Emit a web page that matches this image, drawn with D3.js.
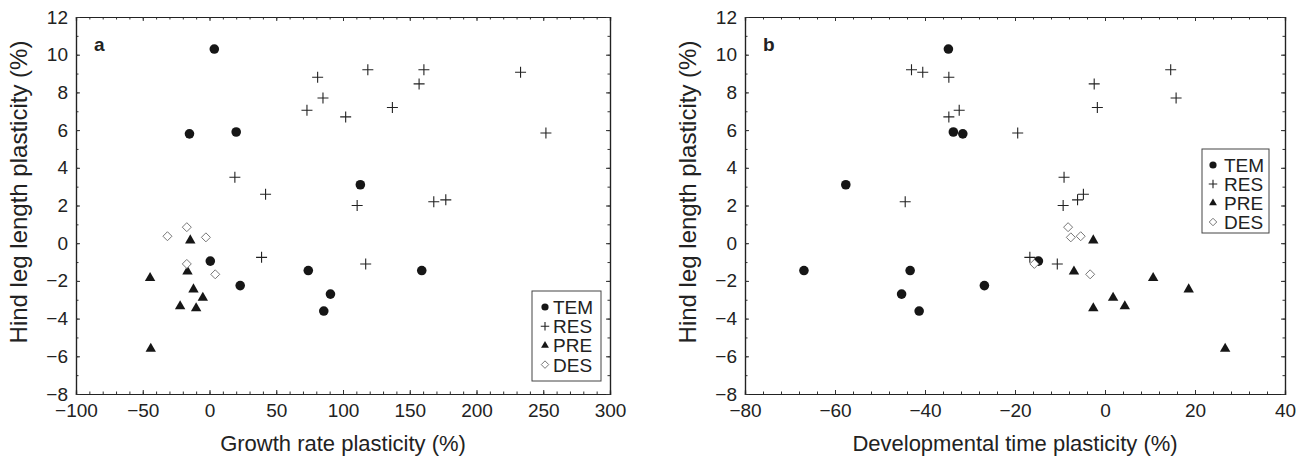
<!DOCTYPE html>
<html>
<head>
<meta charset="utf-8">
<script src="https://cdn.jsdelivr.net/npm/d3@7"></script>
<style>
  body { margin: 0; background: #fff; }
  svg { display: block; font-family: "Liberation Sans", Arial, Helvetica, sans-serif; }
</style>
</head>
<body>
<div id="chart"></div>
<script>
// hind leg length plasticity (%), shared by both panels
var groups = ["TEM", "RES", "PRE", "DES"];

var temHind   = [10.3, 5.8, 5.9, 3.1, -0.95, -1.45, -1.45, -2.25, -2.7, -3.6];
var temGrowth = [3.6, -15, 20, 113, 0.6, 74, 159, 23, 90.6, 85.6];
var temDev    = [-34.8, -31.6, -33.7, -57.6, -14.8, -66.9, -43.3, -26.8, -45.2, -41.3];

var resHind   = [9.2, 9.2, 9.07, 8.8, 8.45, 7.7, 7.2, 7.05, 6.7, 5.85, 3.5, 2.6, 2.3, 2.2, 2.0, -0.75, -1.1];
var resGrowth = [118.6, 160.6, 233, 81, 157, 85, 137, 73, 102, 252, 19, 42, 177, 168, 110.6, 39, 117];
var resDev    = [-43, 14.6, -40.5, -34.7, -2.4, 15.8, -1.7, -32.4, -34.7, -19.4, -9.1, -4.8, -6.1, -44.4, -9.3, -16.7, -10.6];

var preHind   = [0.15, -1.5, -1.85, -2.45, -2.9, -3.35, -3.45, -5.6];
var preGrowth = [-14.4, -16.5, -44.5, -12, -5, -22, -10, -44];
var preDev    = [-2.6, -6.9, 10.7, 18.6, 1.8, 4.4, -2.6, 26.7];

var desHind   = [0.85, 0.37, 0.31, -1.1, -1.65];
var desGrowth = [-17, -31.5, -2.7, -17, 4.3];
var desDev    = [-8.2, -5.4, -7.6, -15.7, -3.3];

var yTicks = [-8, -6, -4, -2, 0, 2, 4, 6, 8, 10, 12];
var growthTicks = [-100, -50, 0, 50, 100, 150, 200, 250, 300];
var devTicks = [-80, -60, -40, -20, 0, 20, 40];

function init() {
    var W = 1307, H = 460;
    var top = 17, bottom = 394;

    var svg = d3.select("#chart")
        .append("svg")
        .attr("width", W)
        .attr("height", H);

    var yScale = d3.scaleLinear().domain([-8, 12]).range([bottom, top]);

    var panels = [
        {
            label: "a", left: 76, right: 610,
            domain: [-100, 300], ticks: growthTicks, minorStep: 10,
            xTitle: "Growth rate plasticity (%)",
            xs: [temGrowth, resGrowth, preGrowth, desGrowth],
            legend: { x: 532, y: 291, w: 69, h: 90, row: 19.2, symX: 13, textX: 21 }
        },
        {
            label: "b", left: 745, right: 1285,
            domain: [-80, 40], ticks: devTicks, minorStep: 4,
            xTitle: "Developmental time plasticity (%)",
            xs: [temDev, resDev, preDev, desDev],
            legend: { x: 1202, y: 149, w: 67, h: 84, row: 19, symX: 11, textX: 22 }
        }
    ];
    var hinds = [temHind, resHind, preHind, desHind];

    // marker paths
    function markerPath(name, s) {
        if (name === "TEM") return d3.symbol(d3.symbolCircle, Math.PI * s * s * 0.23)();
        if (name === "RES") return "M" + (-s / 2 - 0.5) + ",0H" + (s / 2 + 0.5) + "M0," + (-s / 2 - 0.5) + "V" + (s / 2 + 0.5);
        if (name === "PRE") return d3.symbol(d3.symbolTriangle, s * s * 0.47)();
        return "M0," + (-s / 2) + "L" + (s / 2) + ",0L0," + (s / 2) + "L" + (-s / 2) + ",0Z";
    }
    function styleMarker(sel, name) {
        if (name === "TEM" || name === "PRE") {
            sel.attr("fill", "#161616").attr("stroke", "none");
        } else if (name === "RES") {
            sel.attr("fill", "none").attr("stroke", "#222").attr("stroke-width", 1.1);
        } else {
            sel.attr("fill", "#fff").attr("stroke", "#777").attr("stroke-width", 1);
        }
    }

    panels.forEach(function (p) {
        var x = d3.scaleLinear().domain(p.domain).range([p.left, p.right]);
        var y = yScale;
        var g = svg.append("g");

        var minorX = d3.range(p.domain[0], p.domain[1] + 0.001, p.minorStep);
        var minorY = d3.range(-8, 12.001, 1);

        // minor ticks on all sides, pointing inward
        g.append("g").attr("class", "axis").attr("transform", "translate(0," + bottom + ")")
            .call(d3.axisBottom(x).tickValues(minorX).tickSize(-2.5).tickFormat(""));
        g.append("g").attr("class", "axis").attr("transform", "translate(0," + top + ")")
            .call(d3.axisTop(x).tickValues(minorX).tickSize(-2.5).tickFormat(""));
        g.append("g").attr("class", "axis").attr("transform", "translate(" + p.left + ",0)")
            .call(d3.axisLeft(y).tickValues(minorY).tickSize(-2.5).tickFormat(""));
        g.append("g").attr("class", "axis").attr("transform", "translate(" + p.right + ",0)")
            .call(d3.axisRight(y).tickValues(minorY).tickSize(-2.5).tickFormat(""));

        // major ticks with labels
        g.append("g").attr("class", "axis major").attr("transform", "translate(0," + bottom + ")")
            .call(d3.axisBottom(x).tickValues(p.ticks).tickSize(-4).tickPadding(10).tickFormat(d3.format("d")));
        g.append("g").attr("class", "axis").attr("transform", "translate(0," + top + ")")
            .call(d3.axisTop(x).tickValues(p.ticks).tickSize(-4).tickFormat(""));
        g.append("g").attr("class", "axis major").attr("transform", "translate(" + p.left + ",0)")
            .call(d3.axisLeft(y).tickValues(yTicks).tickSize(-4).tickPadding(8).tickFormat(d3.format("d")));
        g.append("g").attr("class", "axis").attr("transform", "translate(" + p.right + ",0)")
            .call(d3.axisRight(y).tickValues(yTicks).tickSize(-4).tickFormat(""));

        g.selectAll(".axis path").attr("stroke", "#222").attr("stroke-width", 1.2);
        g.selectAll(".axis line").attr("stroke", "#333").attr("stroke-width", 1);
        g.selectAll(".axis text")
            .attr("fill", "#222")
            .style("font-size", "19px")
            .style("font-family", "'Liberation Sans', Arial, sans-serif");

        // panel letter
        g.append("text")
            .attr("x", p.left + 18)
            .attr("y", top + 34)
            .attr("font-size", 19)
            .attr("font-weight", "bold")
            .attr("fill", "#222")
            .text(p.label);

        // points
        groups.forEach(function (name, gi) {
            var pts = p.xs[gi].map(function (v, i) { return [v, hinds[gi][i]]; });
            g.selectAll(".pt-" + name)
                .data(pts)
                .enter()
                .append("path")
                .attr("class", "pt-" + name)
                .attr("d", markerPath(name, name === "DES" ? 9 : 10))
                .attr("transform", function (d) {
                    return "translate(" + x(d[0]) + "," + y(d[1]) + ")";
                })
                .call(styleMarker, name);
        });

        // legend
        var L = p.legend;
        var lg = g.append("g").attr("transform", "translate(" + L.x + "," + L.y + ")");
        lg.append("rect")
            .attr("width", L.w).attr("height", L.h)
            .attr("fill", "#fff").attr("stroke", "#444").attr("stroke-width", 1);
        groups.forEach(function (name, gi) {
            var cy = 16 + gi * L.row;
            lg.append("path")
                .attr("d", markerPath(name, 7.5))
                .attr("transform", "translate(" + L.symX + "," + cy + ")")
                .call(styleMarker, name);
            lg.append("text")
                .attr("x", L.textX)
                .attr("y", cy + 7)
                .attr("font-size", 19)
                .attr("fill", "#222")
                .text(name);
        });

        // axis titles
        g.append("text")
            .attr("transform", "translate(" + ((p.left + p.right) / 2) + "," + 451 + ")")
            .attr("text-anchor", "middle")
            .attr("font-size", 22)
            .attr("fill", "#222")
            .text(p.xTitle);
        g.append("text")
            .attr("transform", "translate(" + (p.left - 49) + "," + 192 + ") rotate(-90)")
            .attr("text-anchor", "middle")
            .attr("font-size", 24)
            .attr("fill", "#222")
            .text("Hind leg length plasticity (%)");
    });
}

window.onload = init;
</script>
</body>
</html>
